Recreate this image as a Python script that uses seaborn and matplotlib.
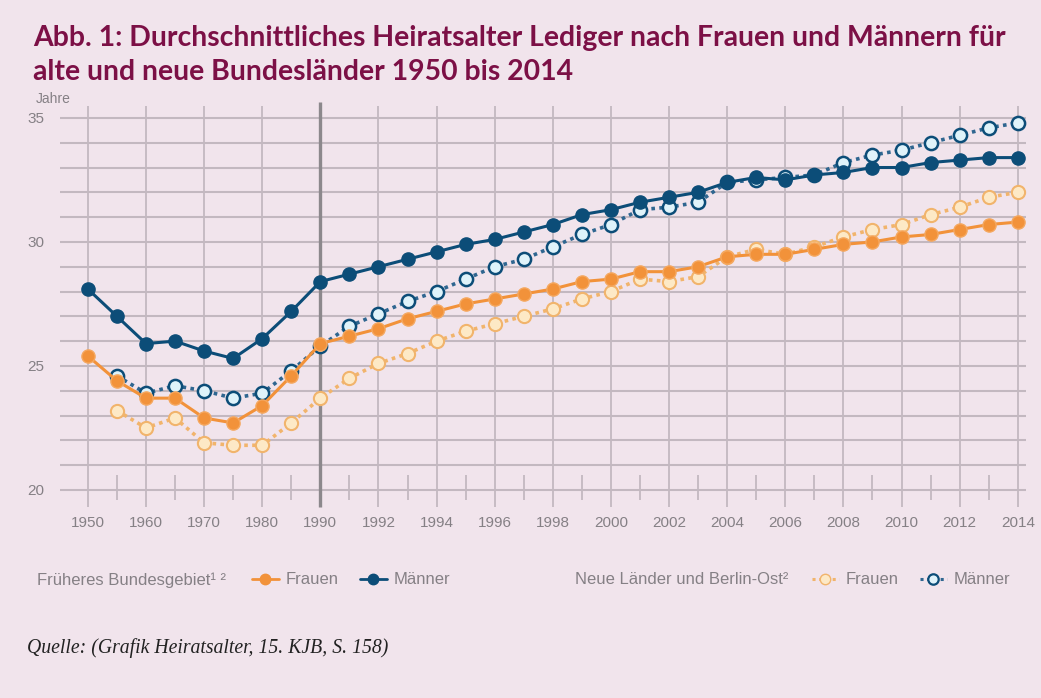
import matplotlib

matplotlib.use('Agg')
import matplotlib.pyplot as plt
from matplotlib.lines import Line2D
import seaborn as sns

# x axis is categorical: 5-year steps up to 1990, then yearly
years = [1950, 1955, 1960, 1965, 1970, 1975, 1980, 1985, 1990,
         1991, 1992, 1993, 1994, 1995, 1996, 1997, 1998, 1999, 2000,
         2001, 2002, 2003, 2004, 2005, 2006, 2007, 2008, 2009, 2010,
         2011, 2012, 2013, 2014]
tick_years = [1950, 1960, 1970, 1980, 1990, 1992, 1994, 1996, 1998, 2000,
              2002, 2004, 2006, 2008, 2010, 2012, 2014]

# früheres Bundesgebiet (1950-2014)
maenner_west = [28.1, 27.0, 25.9, 26.0, 25.6, 25.3, 26.1, 27.2, 28.4,
                28.7, 29.0, 29.3, 29.6, 29.9, 30.1, 30.4, 30.7, 31.1, 31.3,
                31.6, 31.8, 32.0, 32.4, 32.6, 32.5, 32.7, 32.8, 33.0, 33.0,
                33.2, 33.3, 33.4, 33.4]
frauen_west = [25.4, 24.4, 23.7, 23.7, 22.9, 22.7, 23.4, 24.6, 25.9,
               26.2, 26.5, 26.9, 27.2, 27.5, 27.7, 27.9, 28.1, 28.4, 28.5,
               28.8, 28.8, 29.0, 29.4, 29.5, 29.5, 29.7, 29.9, 30.0, 30.2,
               30.3, 30.5, 30.7, 30.8]
# neue Länder und Berlin-Ost (1955-2014)
maenner_ost = [24.6, 23.9, 24.2, 24.0, 23.7, 23.9, 24.8, 25.8,
               26.6, 27.1, 27.6, 28.0, 28.5, 29.0, 29.3, 29.8, 30.3, 30.7,
               31.3, 31.4, 31.6, 32.4, 32.5, 32.6, 32.7, 33.2, 33.5, 33.7,
               34.0, 34.3, 34.6, 34.8]
frauen_ost = [23.2, 22.5, 22.9, 21.9, 21.8, 21.8, 22.7, 23.7,
              24.5, 25.1, 25.5, 26.0, 26.4, 26.7, 27.0, 27.3, 27.7, 28.0,
              28.5, 28.4, 28.6, 29.4, 29.7, 29.5, 29.8, 30.2, 30.5, 30.7,
              31.1, 31.4, 31.8, 32.0]

BG = '#f1e4ec'
GRID = '#c3b8c0'
GREY = '#858085'
TITLE = '#7c1046'
BLUE = '#0c4d78'
ORANGE = '#f2923a'
ORANGE_LIGHT = '#f1b46c'
FACE_BLUE = '#dff3fa'
FACE_ORANGE = '#fde9c6'
DOT = (0, (1, 1.2))

sns.set_style('white')
plt.rcParams['font.family'] = ['Liberation Sans', 'DejaVu Sans']

pos = list(range(len(years)))
pos_ost = pos[1:]

fig = plt.figure(figsize=(10.41, 6.98), dpi=100, facecolor=BG)
ax = fig.add_axes([0.0576, 0.2665, 0.929, 0.5905])
ax.set_facecolor(BG)
for s in ax.spines.values():
    s.set_visible(False)

# grid
ax.hlines(range(20, 36), -0.96, 32.3, color=GRID, lw=1.5, zorder=0)
major = [years.index(y) for y in tick_years]
ax.vlines([p for p in major if years[p] != 1990], 19.3, 35.5, color=GRID, lw=1.3, zorder=0)
ax.vlines([years.index(1990)], 19.3, 35.65, color='#8c888c', lw=2.4, zorder=1)
minor = [p for p in pos if p not in major]
ax.vlines(minor, 19.6, 20.6, color=GRID, lw=1.3, zorder=0)

# lines
sns.lineplot(x=pos_ost, y=frauen_ost, ax=ax, color=ORANGE_LIGHT, linestyle=DOT,
             linewidth=2.6, marker='o', markersize=9.5, markerfacecolor=FACE_ORANGE,
             markeredgecolor=ORANGE_LIGHT, markeredgewidth=1.5, zorder=3)
sns.lineplot(x=pos_ost, y=maenner_ost, ax=ax, color='#2f6690', linestyle=DOT,
             linewidth=2.6, marker='o', markersize=9.5, markerfacecolor=FACE_BLUE,
             markeredgecolor=BLUE, markeredgewidth=1.8, zorder=3)
sns.lineplot(x=pos, y=frauen_west, ax=ax, color=ORANGE, linewidth=2.2,
             marker='o', markersize=9.5, markerfacecolor=ORANGE,
             markeredgecolor='#f5a860', markeredgewidth=1, zorder=4)
sns.lineplot(x=pos, y=maenner_west, ax=ax, color=BLUE, linewidth=2.2,
             marker='o', markersize=9.5, markerfacecolor=BLUE,
             markeredgecolor=BLUE, markeredgewidth=1, zorder=4)

ax.set_xlim(-0.96, 32.32)
ax.set_ylim(19.11, 35.73)
ax.set_xticks(major)
ax.set_xticklabels([str(y) for y in tick_years])
ax.set_yticks([20, 25, 30, 35])
ax.set_yticklabels(['20', '25', '30', '35'])
ax.tick_params(axis='both', length=0, labelsize=11, colors=GREY)
ax.tick_params(axis='x', pad=3)
ax.tick_params(axis='y', pad=11)
ax.set_xlabel('')
ax.set_ylabel('')

fig.text(36 / 1041, 1 - 99 / 698, 'Jahre', fontsize=10, color=GREY, va='center')

# title
fig.text(33 / 1041, 1 - 38 / 698, 'Abb. 1: Durchschnittliches Heiratsalter Lediger nach Frauen und Männern für',
         fontsize=20.4, fontweight='bold', color=TITLE, family='Lato', va='center')
fig.text(33 / 1041, 1 - 72 / 698, 'alte und neue Bundesländer 1950 bis 2014',
         fontsize=20.4, fontweight='bold', color=TITLE, family='Lato', va='center')

# legend rows
ly = 1 - 580 / 698
fig.text(37 / 1041, ly, 'Früheres Bundesgebiet¹ ²', fontsize=12, color=GREY, va='center')
fig.text(575 / 1041, ly, 'Neue Länder und Berlin-Ost²', fontsize=12, color=GREY, va='center')

h_west = [
    Line2D([], [], color=ORANGE, lw=2, marker='o', markersize=7.5, markerfacecolor=ORANGE, markeredgecolor=ORANGE),
    Line2D([], [], color=BLUE, lw=2, marker='o', markersize=7.5, markerfacecolor=BLUE, markeredgecolor=BLUE),
]
h_ost = [
    Line2D([], [], color=ORANGE_LIGHT, lw=2.2, ls=DOT, marker='o', markersize=7.5,
           markerfacecolor=FACE_ORANGE, markeredgecolor=ORANGE_LIGHT),
    Line2D([], [], color='#2f6690', lw=2.2, ls=DOT, marker='o', markersize=7.5,
           markerfacecolor=FACE_BLUE, markeredgecolor=BLUE, markeredgewidth=1.6),
]
leg_kw = dict(ncol=2, frameon=False, handlelength=1.6, handletextpad=0.4, columnspacing=1.3,
              fontsize=12, labelcolor=GREY, loc='center left', borderpad=0, borderaxespad=0)
fig.legend(h_west, ['Frauen', 'Männer'], bbox_to_anchor=(252 / 1041, ly), **leg_kw)
fig.legend(h_ost, ['Frauen', 'Männer'], bbox_to_anchor=(812 / 1041, ly), **leg_kw)

fig.text(27 / 1041, 1 - 648 / 698, 'Quelle: (Grafik Heiratsalter, 15. KJB, S. 158)',
         fontsize=14.2, style='italic', color='#222222', family='Liberation Serif', va='center')

fig.savefig('out.png', dpi=100, facecolor=BG)
plt.close(fig)
